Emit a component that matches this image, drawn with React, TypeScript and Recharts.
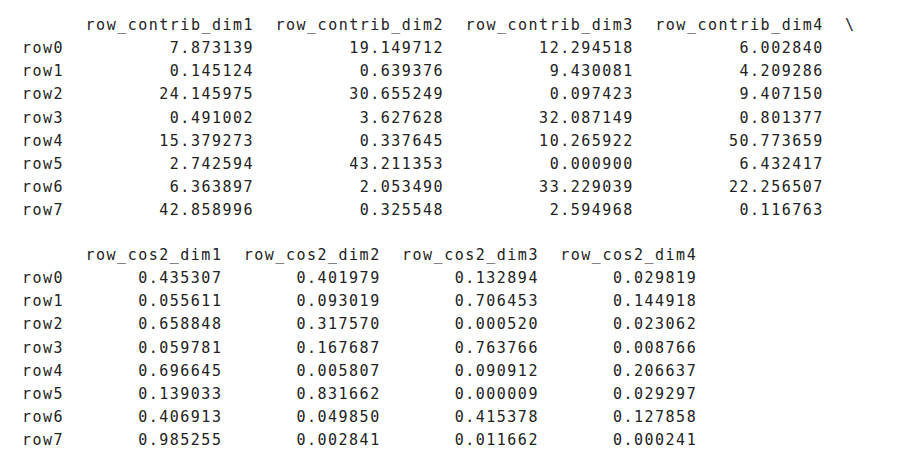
import { Surface, Text } from 'recharts';

const rowLabels = ['row0', 'row1', 'row2', 'row3', 'row4', 'row5', 'row6', 'row7'];

const contribHeaders = ['row_contrib_dim1', 'row_contrib_dim2', 'row_contrib_dim3', 'row_contrib_dim4'];
const contribDim1 = [7.873139, 0.145124, 24.145975, 0.491002, 15.379273, 2.742594, 6.363897, 42.858996];
const contribDim2 = [19.149712, 0.639376, 30.655249, 3.627628, 0.337645, 43.211353, 2.05349, 0.325548];
const contribDim3 = [12.294518, 9.430081, 0.097423, 32.087149, 10.265922, 0.0009, 33.229039, 2.594968];
const contribDim4 = [6.00284, 4.209286, 9.40715, 0.801377, 50.773659, 6.432417, 22.256507, 0.116763];

const cos2Headers = ['row_cos2_dim1', 'row_cos2_dim2', 'row_cos2_dim3', 'row_cos2_dim4'];
const cos2Dim1 = [0.435307, 0.055611, 0.658848, 0.059781, 0.696645, 0.139033, 0.406913, 0.985255];
const cos2Dim2 = [0.401979, 0.093019, 0.31757, 0.167687, 0.005807, 0.831662, 0.04985, 0.002841];
const cos2Dim3 = [0.132894, 0.706453, 0.00052, 0.763766, 0.090912, 0.000009, 0.415378, 0.011662];
const cos2Dim4 = [0.029819, 0.144918, 0.023062, 0.008766, 0.206637, 0.029297, 0.127858, 0.000241];

const CW = 10.55;
const X0 = 22;
const ROW_H = 23.15;
const FONT = {
  fontFamily: '"DejaVu Sans Mono", monospace',
  fontSize: 15,
  letterSpacing: 1.5,
  fill: '#222',
};

function Block({ top, headers, cols, colWidth, trailing }: {
  top: number; headers: string[]; cols: number[][]; colWidth: number; trailing?: string;
}) {
  const right = (i: number) => X0 + (4 + (colWidth + 2) * (i + 1)) * CW;
  return (
    <g>
      {headers.map((h, i) => (
        <Text key={h} x={right(i)} y={top} textAnchor="end" style={FONT}>{h}</Text>
      ))}
      {trailing && (
        <Text x={right(headers.length - 1) + 2 * CW} y={top} style={FONT}>{trailing}</Text>
      )}
      {rowLabels.map((r, ri) => (
        <g key={r}>
          <Text x={X0} y={top + ROW_H * (ri + 1)} style={FONT}>{r}</Text>
          {cols.map((c, ci) => (
            <Text key={ci} x={right(ci)} y={top + ROW_H * (ri + 1)} textAnchor="end" style={FONT}>
              {c[ri].toFixed(6)}
            </Text>
          ))}
        </g>
      ))}
    </g>
  );
}

export default function App() {
  return (
    <div style={{ width: 900, height: 460, background: '#fff', margin: -8 }}>
      <Surface width={900} height={460}>
        <Block top={30} headers={contribHeaders}
          cols={[contribDim1, contribDim2, contribDim3, contribDim4]} colWidth={16} trailing="\" />
        <Block top={260} headers={cos2Headers}
          cols={[cos2Dim1, cos2Dim2, cos2Dim3, cos2Dim4]} colWidth={13} />
      </Surface>
    </div>
  );
}
